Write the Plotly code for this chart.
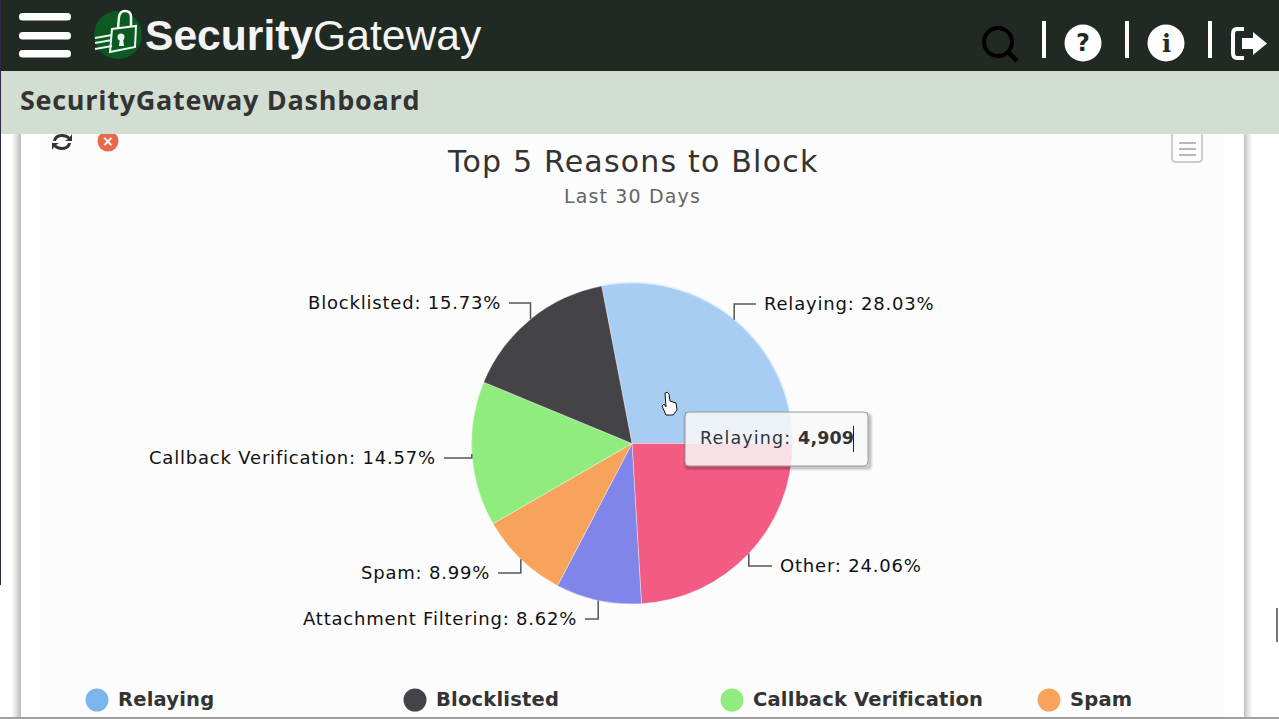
import math
import plotly.graph_objects as go

# ---- data ----
slice_names = ["Relaying", "Other", "Attachment Filtering", "Spam", "Callback Verification", "Blocklisted"]
slice_values = [4909, 4214, 1510, 1574, 2552, 2755]
slice_colors = ["#a8cdf3", "#f45b82", "#8085e9", "#f7a35c", "#90ed7d", "#434348"]
legend_names = ["Relaying", "Blocklisted", "Callback Verification", "Spam"]
legend_colors = ["#7cb5ec", "#434348", "#90ed7d", "#f7a35c"]
title_text = "Top 5 Reasons to Block"
subtitle_text = "Last 30 Days"
page_title = "SecurityGateway Dashboard"
tooltip_name = "Relaying"
tooltip_value = "4,909"

# ---- layout constants (pixels) ----
W, H = 1279, 719
CX, CY, R = 632, 443.5, 160.5
ROTATION = -10.9
label_y = [304, 566, 619, 573, 458, 303]
label_end = [756, 772, 585, 498, 444, 509]
legend_x = [97, 415, 732, 1049]
legend_y = 700
FONT = "DejaVu Sans"
HEAD = "Open Sans"


def rrect(x0, y0, x1, y1, r):
    return (f"M{x0+r},{y0} L{x1-r},{y0} Q{x1},{y0} {x1},{y0+r} L{x1},{y1-r} Q{x1},{y1} {x1-r},{y1} "
            f"L{x0+r},{y1} Q{x0},{y1} {x0},{y1-r} L{x0},{y0+r} Q{x0},{y0} {x0+r},{y0} Z")


def spaced(t, px):
    return f"<span style='letter-spacing:{px}px'>{t}</span>"


shapes, annos = [], []


def rect(x0, y0, x1, y1, fill, layer="above"):
    shapes.append(dict(type="rect", x0=x0, y0=y0, x1=x1, y1=y1, fillcolor=fill,
                       line_width=0, layer=layer, xref="x", yref="y"))


def path(d, fill=None, line=None, lw=0, layer="above"):
    s = dict(type="path", path=d, xref="x", yref="y", layer=layer, line=dict(width=lw, color=line or "rgba(0,0,0,0)"))
    if fill:
        s["fillcolor"] = fill
    shapes.append(s)


def circle(cx, cy, r, fill=None, line=None, lw=0, layer="above"):
    s = dict(type="circle", x0=cx-r, y0=cy-r, x1=cx+r, y1=cy+r, xref="x", yref="y", layer=layer,
             line=dict(width=lw, color=line or "rgba(0,0,0,0)"))
    if fill:
        s["fillcolor"] = fill
    shapes.append(s)


def text(x, y, t, size, color="#333333", anchor="left", family=FONT):
    annos.append(dict(x=x, y=y, xref="x", yref="y", text=t, showarrow=False, xanchor=anchor, yanchor="middle",
                      font=dict(family=family, size=size, color=color), borderpad=0, borderwidth=0))


# page + card (below the chart)
rect(0, 0, W, H, "#ffffff", "below")
for i, a in enumerate([0.03, 0.04, 0.05, 0.06, 0.07]):
    rect(12 + i * 1.7, 134, 21, 717, f"rgba(0,0,0,{a})", "below")
    rect(1244, 134, 1252 - i * 1.7, 717, f"rgba(0,0,0,{a})", "below")
rect(21, 134, 1244, 717, "#ffffff", "below")
rect(40, 134, 1224, 717, "#fcfcfc", "below")
rect(0, 717, W, H, "#a0a0a0", "below")
rect(1276, 608, 1278, 642, "#777777", "below")

# card controls
path(rrect(1172, 125, 1202, 162, 4), "#fcfcfc", "#bdbdbd", 1.5, "below")
for y in (143, 149, 155):
    shapes.append(dict(type="line", x0=1179, x1=1196, y0=y, y1=y, xref="x", yref="y", layer="below",
                       line=dict(color="#a8a8a8", width=1.6)))
circle(108, 141, 10.5, "#e8694a", layer="below")
text(108, 141, "<b>×</b>", 14, "#ffffff", "center")
path("M53,141 Q54,134 62,134 Q67,134 70,137 L72,134 L72,141 L65,141 L68,139 Q65,137 62,137 Q57,137 56,141 Z "
     "M71,143 Q70,150 62,150 Q57,150 54,147 L52,150 L52,143 L59,143 L56,145 Q59,147 62,147 Q67,147 68,143 Z",
     "#333333", layer="below")

# halo around the hovered slice
halo_pts = []
for k in range(41):
    ang = math.radians(ROTATION + k / 40 * slice_values[0] / sum(slice_values) * 360)
    halo_pts.append(f"{CX + R * math.sin(ang):.1f},{CY - R * math.cos(ang):.1f}")
path("M" + " L".join(halo_pts), None, "#e2edf9", 2.5, "below")

# header bars
rect(0, 0, W, 71, "#212a22")
rect(0, 71, W, 134, "#d3ded3")
rect(0, 0, 1, 585, "#2e2a45")
for y0 in (13, 32, 50):
    path(rrect(19, y0, 71, y0 + 7.5, 3.5), "#ffffff")
# logo
circle(118, 35, 24, "#0a5a22")
path("M112,29 L136,26 L135,47 L110,52 Z", "#0a5a22", "#f2f7f2", 2)
path("M118,28 L119,17 Q120,11 125,11 Q131,11 131,17 L131,27", None, "#f2f7f2", 2.5)
circle(121, 37, 3.5, "#f2f7f2")
path("M120,38 L123,38 L124,46 L119,46 Z", "#f2f7f2")
for y0 in (38, 43, 49):
    shapes.append(dict(type="line", x0=95, x1=112, y0=y0, y1=y0 - 3, xref="x", yref="y", layer="above",
                       line=dict(color="#e8f1e8", width=2)))
text(145, 35, "<b>Security</b>Gateway", 42.6, "#f4f4f4", family="Liberation Sans")
text(20, 99.5, f"<b>{spaced(page_title, 0.72)}</b>", 27, "#333333", family=HEAD)

# header icons
circle(998, 42, 14, None, "#000000", 4)
shapes.append(dict(type="line", x0=1008, y0=52, x1=1017, y1=61, xref="x", yref="y",
                   line=dict(color="#000000", width=4.5)))
for x in (1044, 1127, 1210):
    rect(x - 2, 21, x + 2, 58, "#ffffff")
circle(1083, 43, 18.5, "#ffffff")
circle(1166, 43, 18.5, "#ffffff")
text(1083, 43, "<b>?</b>", 24, "#212a22", "center")
text(1166, 43, "<b>i</b>", 24, "#212a22", "center", "DejaVu Serif")
path("M1244,29 L1237,29 Q1233,29 1233,34 L1233,53 Q1233,58 1237,58 L1244,58", None, "#ffffff", 4)
path("M1242,38 L1253,38 L1253,32 L1267,43.5 L1253,55 L1253,49 L1242,49 Z", "#ffffff")

# card title
text(632, 161, spaced(title_text, 1.2), 30, "#333333", "center")
text(632, 196, spaced(subtitle_text, 1.15), 19, "#666666", "center")

# data labels and connectors, from the slice values
total = sum(slice_values)
running = 0
for name, val, ly, lx in zip(slice_names, slice_values, label_y, label_end):
    mid = math.radians(ROTATION + (running + val / 2) / total * 360)
    running += val
    rx, ry = CX + R * math.sin(mid), CY - R * math.cos(mid)
    path(f"M{rx:.1f},{ry:.1f} L{rx:.1f},{ly} L{lx},{ly}", None, "#555555", 1.5)
    right = rx > CX
    text(lx + (8 if right else -8), ly - 1, spaced(f"{name}: {val / total * 100:.2f}%", 0.8), 18, "#111111",
         "left" if right else "right")

# tooltip
hole = "M685,412 L685,466 L868,466 L868,412 Z"
for i, a in enumerate([0.05, 0.07, 0.1]):
    path(rrect(685 - 2 + i, 412 + i, 868 + 5 - i, 466 + 5 - i, 5) + " " + hole, f"rgba(0,0,0,{a})")
path(rrect(685, 412, 868, 466, 4), "rgba(248,248,248,0.85)", "#999999", 1)
text(700, 438, spaced(f"{tooltip_name}: ", 1.15) + f"<b>{spaced(tooltip_value, 0.1)}</b>", 17.5, "#333333")
rect(853, 426, 854, 452, "#222222")

# hand cursor
path("M665,393 Q668,391 669,394 L670,401 L676,403 L677,410 L673,415 L666,415 L662,406 L664,404 L666,407 Z",
     "#ffffff", "#111111", 1)

# legend labels
for x, name in zip(legend_x, legend_names):
    text(x + 21, legend_y - 1, f"<b>{spaced(name, 0.2)}</b>", 19.5, "#333333")

fig = go.Figure()
fig.add_trace(go.Scatter(
    x=legend_x, y=[legend_y] * len(legend_x), mode="markers", hoverinfo="skip", showlegend=False,
    marker=dict(size=23, color=legend_colors, line_width=0),
))
fig.add_trace(go.Pie(
    labels=slice_names, values=slice_values, sort=False, direction="clockwise", rotation=ROTATION,
    marker=dict(colors=slice_colors, line=dict(color="rgba(255,255,255,0.6)", width=0.6)),
    textinfo="none", hoverinfo="skip", showlegend=False,
    domain=dict(x=[(CX - R) / W, (CX + R) / W], y=[(H - CY - R) / H, (H - CY + R) / H]),
))
fig.update_layout(
    width=W, height=H, margin=dict(l=0, r=0, t=0, b=0), showlegend=False,
    paper_bgcolor="#ffffff", plot_bgcolor="rgba(0,0,0,0)",
    xaxis=dict(range=[0, W], visible=False, fixedrange=True),
    yaxis=dict(range=[H, 0], visible=False, fixedrange=True),
    shapes=shapes, annotations=annos,
)
fig.write_html("out.html", config={"displayModeBar": False},
               post_script="document.body.style.margin='0';document.body.style.overflow='hidden';")
